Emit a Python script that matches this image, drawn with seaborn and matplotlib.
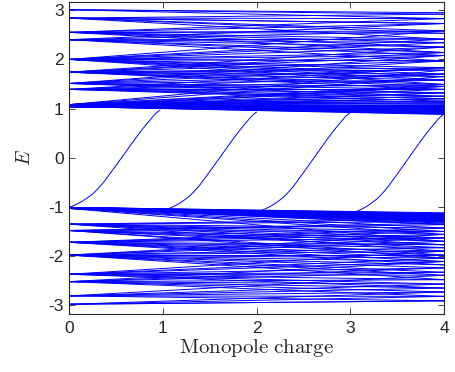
import numpy as np
import pandas as pd
import matplotlib
matplotlib.use("Agg")
import matplotlib.pyplot as plt
import seaborn as sns

# monopole charge range of the sweep
charge_range = [0, 4]

# upper band: energy clusters at charge 0 and where each level ends at charge 4
upper_starts = [3.01, 2.84, 2.55, 2.40, 2.00, 1.74, 1.51, 1.39, 1.08, 1.04]
upper_ends = [
    [2.95, 2.92, 2.83],
    [2.92, 2.83, 2.73, 2.73, 2.58, 2.53, 2.41],
    [2.83, 2.73, 2.58, 2.53, 2.41, 2.34, 2.25, 2.14],
    [2.73, 2.58, 2.41, 2.34, 2.25, 2.14, 2.08, 1.97],
    [2.58, 2.41, 2.34, 2.25, 2.14, 2.08, 1.97, 1.97, 1.83, 1.78, 1.70, 1.65, 1.58, 1.49],
    [2.25, 2.14, 2.08, 1.97, 1.83, 1.78, 1.70, 1.65, 1.58, 1.49, 1.45, 1.39],
    [2.08, 1.97, 1.83, 1.70, 1.58, 1.45, 1.39, 1.32, 1.25],
    [1.83, 1.70, 1.58, 1.49, 1.39, 1.32, 1.25, 1.20, 1.15],
    [1.78, 1.65, 1.49, 1.45, 1.39, 1.32, 1.25, 1.25, 1.20, 1.20, 1.15, 1.15,
     1.12, 1.10, 1.08, 1.08, 1.06, 1.05, 1.04, 1.03, 1.02],
    [1.45, 1.32, 1.20, 1.12, 1.08, 1.06, 1.05, 1.03, 1.01, 1.00, 0.99, 0.98,
     0.97, 0.96, 0.95, 0.94, 0.93, 0.92, 0.91, 0.90, 0.89, 0.88],
]

# lower band
lower_starts = [-1.01, -1.03, -1.35, -1.48, -1.72, -1.98, -2.37, -2.52, -2.81, -2.98]
lower_ends = [
    [-1.12, -1.13, -1.14, -1.15, -1.16, -1.17, -1.18, -1.19, -1.20, -1.21,
     -1.22, -1.23, -1.25, -1.36],
    [-1.16, -1.19, -1.24, -1.25, -1.26, -1.27, -1.28, -1.29, -1.30, -1.31,
     -1.33, -1.36, -1.43, -1.50, -1.56, -1.70],
    [-1.25, -1.30, -1.43, -1.50, -1.56, -1.63, -1.70, -1.77, -1.90],
    [-1.33, -1.36, -1.50, -1.63, -1.70, -1.77, -1.83, -1.98, -2.04],
    [-1.43, -1.50, -1.56, -1.63, -1.77, -1.83, -1.90, -1.98, -2.04, -2.11, -2.18],
    [-1.56, -1.63, -1.70, -1.83, -1.90, -1.98, -2.04, -2.11, -2.18, -2.24,
     -2.33, -2.39, -2.48],
    [-1.90, -2.04, -2.11, -2.24, -2.33, -2.39, -2.48, -2.57, -2.65],
    [-2.11, -2.24, -2.33, -2.48, -2.57, -2.65, -2.73, -2.82],
    [-2.39, -2.57, -2.65, -2.73, -2.82, -2.91],
    [-2.73, -2.82, -2.91, -2.91],
]

# spectral flow: shape of one crossing (charge offset, fraction of the rise)
flow_offset = [0.00, 0.03, 0.05, 0.09, 0.14, 0.19, 0.25, 0.30, 0.36, 0.41, 0.46,
               0.52, 0.57, 0.63, 0.68, 0.73, 0.78, 0.83, 0.87, 0.90, 0.93, 0.97]
flow_shape = [0.000, 0.006, 0.015, 0.032, 0.058, 0.090, 0.133, 0.180, 0.245, 0.310,
              0.375, 0.455, 0.522, 0.603, 0.670, 0.737, 0.800, 0.860, 0.905, 0.940,
              0.970, 1.000]
flow_start = [0.00, 1.03, 2.03, 3.03]
flow_bottom = [-1.00, -1.05, -1.08, -1.11]
flow_top = [0.97, 0.93, 0.92, 0.89]

x_ticks = [0, 1, 2, 3, 4]
y_ticks = [-3, -2, -1, 0, 1, 2, 3]

# long table: one unit per energy level
rows = []
line_id = 0
for starts, ends in ((upper_starts, upper_ends), (lower_starts, lower_ends)):
    for e0, targets in zip(starts, ends):
        for e1 in targets:
            rows.append((line_id, charge_range[0], e0))
            rows.append((line_id, charge_range[1], e1))
            line_id += 1
for x0, lo, hi in zip(flow_start, flow_bottom, flow_top):
    for dx, f in zip(flow_offset, flow_shape):
        if x0 + dx <= charge_range[1]:
            rows.append((line_id, x0 + dx, lo + f * (hi - lo)))
    line_id += 1
df = pd.DataFrame(rows, columns=['line', 'charge', 'E'])

sns.set_style('ticks')
plt.rcParams['font.family'] = ['Liberation Sans', 'DejaVu Sans']
plt.rcParams['mathtext.fontset'] = 'cm'
plt.rcParams['axes.unicode_minus'] = False

fig, ax = plt.subplots(figsize=(4.55, 3.72), dpi=100)
fig.subplots_adjust(left=0.152, right=0.976, top=0.995, bottom=0.157)

sns.lineplot(data=df, x='charge', y='E', units='line', estimator=None,
             color='#0000ff', lw=0.7, legend=False, ax=ax)

ax.set_xlim(0, 4)
ax.set_ylim(-3.17, 3.17)
ax.set_xticks(x_ticks)
ax.set_yticks(y_ticks)
ax.tick_params(direction='in', top=True, right=True, length=4, width=0.6,
               labelsize=12.5, colors='#262626')
ax.tick_params(axis='x', pad=5)
ax.tick_params(axis='y', pad=4)
for s in ax.spines.values():
    s.set_color('#262626')
    s.set_linewidth(0.8)
ax.set_xlabel(r'$\mathrm{Monopole\ charge}$', fontsize=15, labelpad=1)
ax.set_ylabel(r'$E$', fontsize=14, labelpad=10)

fig.savefig('out.png', dpi=100)
